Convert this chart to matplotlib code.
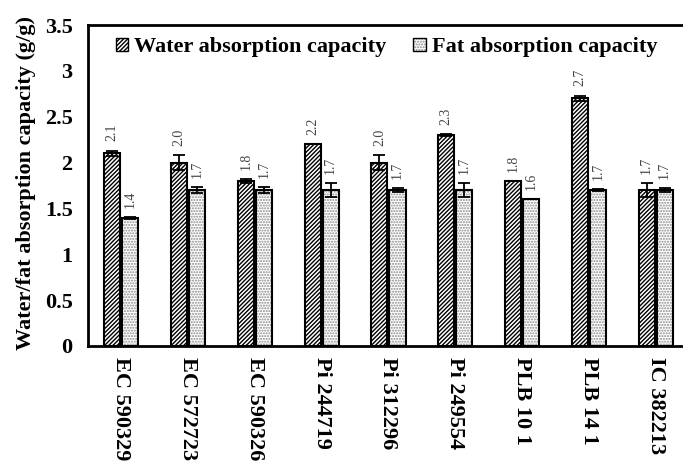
import matplotlib
matplotlib.use("Agg")
import matplotlib.pyplot as plt
import numpy as np
from matplotlib.patches import Patch

categories = ["EC 590329", "EC 572723", "EC 590326", "Pi 244719", "Pi 312296",
              "Pi 249554", "PLB 10 1", "PLB 14 1", "IC 382213"]
water = [2.1, 2.0, 1.8, 2.2, 2.0, 2.3, 1.8, 2.7, 1.7]
water_err = [0.03, 0.08, 0.02, 0.0, 0.08, 0.01, 0.0, 0.03, 0.08]
fat = [1.4, 1.7, 1.7, 1.7, 1.7, 1.7, 1.6, 1.7, 1.7]
fat_err = [0.01, 0.03, 0.03, 0.08, 0.02, 0.08, 0.0, 0.01, 0.02]
series_names = ["Water absorption capacity", "Fat absorption capacity"]
yticks = [0, 0.5, 1, 1.5, 2, 2.5, 3, 3.5]
ytick_labels = ["0", "0.5", "1", "1.5", "2", "2.5", "3", "3.5"]

plt.rcParams['font.family'] = ['Liberation Serif', 'DejaVu Serif']
plt.rcParams['hatch.linewidth'] = 1.0

fig = plt.figure(figsize=(6.83, 4.63), dpi=100)
ax = fig.add_axes([0.1288, 0.2527, 0.88, 0.6933])

x = np.arange(len(categories))
w = 0.24
off = 0.135
dot_color = '#8a8a8a'
ax.bar(x - off, water, w, color='white', edgecolor='black', linewidth=1.5,
       hatch='////////', zorder=2)
ax.bar(x + off, fat, w, color='white', edgecolor=dot_color, linewidth=0,
       hatch='......', zorder=2)
ax.bar(x + off, fat, w, fill=False, edgecolor='black', linewidth=1.5, zorder=2.5)
ax.errorbar(x - off, water, yerr=water_err, fmt='none', ecolor='black',
            elinewidth=1.3, capsize=4, capthick=1.3, zorder=3)
ax.errorbar(x + off, fat, yerr=fat_err, fmt='none', ecolor='black',
            elinewidth=1.3, capsize=4, capthick=1.3, zorder=3)

for xi, v, e in zip(x - off, water, water_err):
    ax.text(xi, v + e + 0.1, f"{v:.1f}", rotation=90, ha='center', va='bottom',
            fontsize=10, color='#444444')
for xi, v, e in zip(x + off, fat, fat_err):
    ax.text(xi, v + e + 0.1, f"{v:.1f}", rotation=90, ha='center', va='bottom',
            fontsize=10, color='#444444')

ax.set_xlim(-0.5, 8.5)
ax.set_ylim(0, 3.5)
ax.set_yticks(yticks)
ax.set_yticklabels(ytick_labels, fontsize=16, fontweight='bold')
ax.set_xticks(x)
ax.set_xticklabels(categories, rotation=-90, fontsize=16, fontweight='bold',
                   va='top', ha='center')
ax.tick_params(axis='y', length=0, pad=11)
ax.tick_params(axis='x', length=0, pad=8)
for s in ['left', 'bottom', 'top', 'right']:
    ax.spines[s].set_linewidth(2)
ax.set_ylabel("Water/fat absorption capacity (g/g)", fontsize=16,
              fontweight='bold')
ax.yaxis.set_label_coords(-0.0865, 0.508)

h_water = Patch(facecolor='white', edgecolor='black', hatch='////////')
h_fat = (Patch(facecolor='white', edgecolor=dot_color, hatch='......', linewidth=0),
         Patch(fill=False, edgecolor='black'))
ax.legend(handles=[h_water, h_fat], labels=series_names, loc='upper left',
          bbox_to_anchor=(0.02, 1.01), ncol=2,
          frameon=False, prop={'weight': 'bold', 'size': 16}, handlelength=0.55,
          handleheight=0.55, handletextpad=0.3, columnspacing=1.2, borderpad=0.2)

fig.savefig("out.png", dpi=100)
